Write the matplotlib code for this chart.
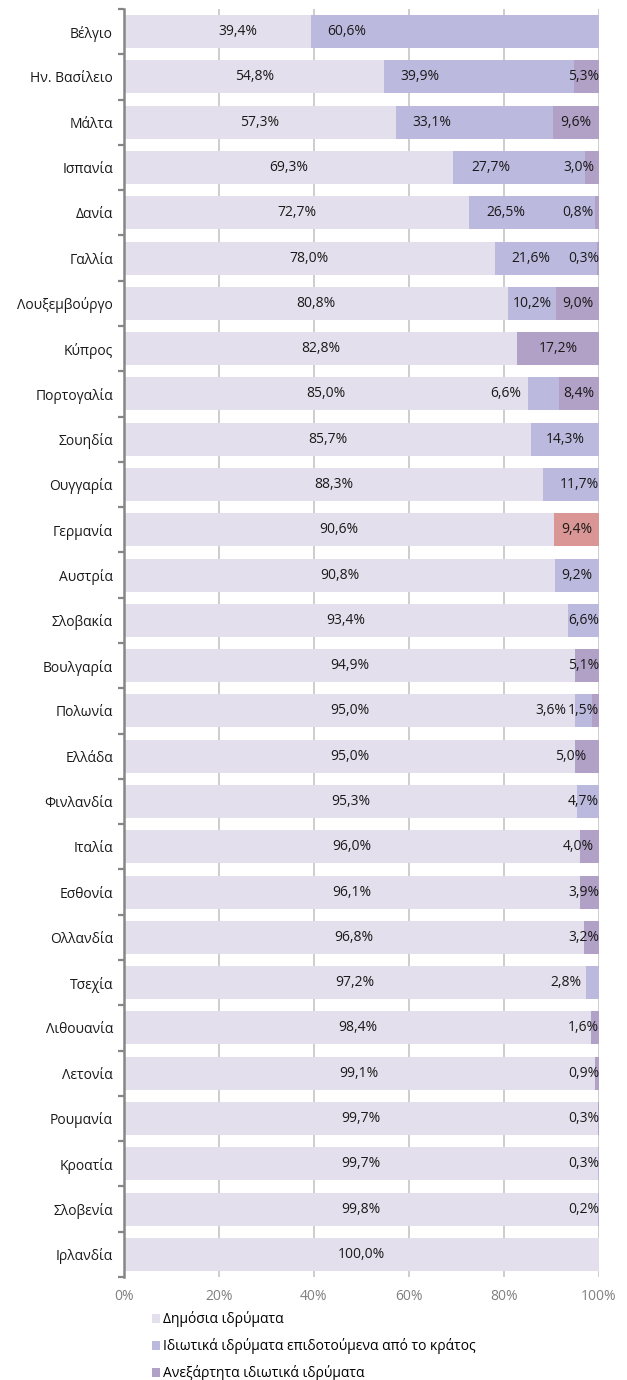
import matplotlib
matplotlib.use("Agg")
import matplotlib.pyplot as plt
from matplotlib.patches import Patch
import numpy as np

plt.rcParams['font.family'] = ['Open Sans', 'DejaVu Sans']

countries = ["Βέλγιο", "Ην. Βασίλειο", "Μάλτα", "Ισπανία", "Δανία", "Γαλλία",
             "Λουξεμβούργο", "Κύπρος", "Πορτογαλία", "Σουηδία", "Ουγγαρία",
             "Γερμανία", "Αυστρία", "Σλοβακία", "Βουλγαρία", "Πολωνία", "Ελλάδα",
             "Φινλανδία", "Ιταλία", "Εσθονία", "Ολλανδία", "Τσεχία", "Λιθουανία",
             "Λετονία", "Ρουμανία", "Κροατία", "Σλοβενία", "Ιρλανδία"]
public = [39.4, 54.8, 57.3, 69.3, 72.7, 78.0, 80.8, 82.8, 85.0, 85.7, 88.3,
          90.6, 90.8, 93.4, 94.9, 95.0, 95.0, 95.3, 96.0, 96.1, 96.8, 97.2,
          98.4, 99.1, 99.7, 99.7, 99.8, 100.0]
subsidised = [60.6, 39.9, 33.1, 27.7, 26.5, 21.6, 10.2, 0.0, 6.6, 14.3, 11.7,
              0.0, 9.2, 6.6, 0.0, 3.6, 0.0, 4.7, 0.0, 0.0, 0.0, 2.8,
              0.0, 0.0, 0.0, 0.3, 0.2, 0.0]
independent = [0.0, 5.3, 9.6, 3.0, 0.8, 0.3, 9.0, 17.2, 8.4, 0.0, 0.0,
               9.4, 0.0, 0.0, 5.1, 1.5, 5.0, 0.0, 4.0, 3.9, 3.2, 0.0,
               1.6, 0.9, 0.3, 0.0, 0.0, 0.0]
series_names = ["Δημόσια ιδρύματα",
                "Ιδιωτικά ιδρύματα επιδοτούμενα από το κράτος",
                "Ανεξάρτητα ιδιωτικά ιδρύματα"]
x_ticks = [0, 20, 40, 60, 80, 100]
highlight_country = "Γερμανία"

colors = ["#E4DFEC", "#BCB9DE", "#B2A1C7"]
highlight_color = "#DA9694"

# label nudges (in percentage points) for labels Excel placed off-centre
label_shift = {(0, 0): 4.3, (0, 1): -22.8, (1, 1): -12.4, (2, 1): -9.0,
               (3, 1): -5.8, (3, 2): -1.0, (4, 1): -5.5, (4, 2): -1.2,
               (5, 1): -3.1, (8, 1): -7.9, (15, 1): -6.9, (16, 2): -2.7,
               (18, 2): -1.2, (21, 1): -3.7, (10, 1): 1.8}

FS = 10
W, H = 627, 1380
fig = plt.figure(figsize=(W / 100, H / 100), dpi=100)
ax = fig.add_axes([124 / W, 1 - 1277 / H, 475 / W, 1268 / H])

y = np.arange(len(countries))
data = [np.array(public), np.array(subsidised), np.array(independent)]
left = np.zeros(len(countries))
bh = 0.73
for si, vals in enumerate(data):
    cols = [colors[si]] * len(countries)
    if si == 2:
        idx = countries.index(highlight_country)
        cols[idx] = highlight_color
    ax.barh(y, vals, left=left, height=bh, color=cols, edgecolor='none', zorder=2)
    for i, v in enumerate(vals):
        if v <= 0:
            continue
        cx = left[i] + v / 2
        if v < 7:
            cx = min(cx, 96.8)
        cx += label_shift.get((i, si), 0)
        ax.text(cx, i, f"{v:.1f}%".replace('.', ','), ha='center', va='center',
                fontsize=FS, color='#1a1a1a', zorder=3)
    left = left + vals

ax.set_xlim(0, 100)
ax.set_ylim(len(countries) - 0.5, -0.5)
ax.set_xticks(x_ticks)
ax.set_xticklabels([f"{t}%" for t in x_ticks])
ax.tick_params(axis='x', length=0, pad=9, labelsize=FS, labelcolor='#808080')
ax.grid(axis='x', color='#C0C0C0', linewidth=1.1, zorder=0)
ax.set_axisbelow(True)

ax.set_yticks(y)
ax.set_yticklabels(countries)
ax.set_yticks(np.arange(-0.5, len(countries), 1), minor=True)
ax.tick_params(axis='y', which='major', length=0, pad=8, labelsize=FS, labelcolor='#1a1a1a')
ax.tick_params(axis='y', which='minor', length=4, width=1.6, color='#868686', direction='out')

for s in ['top', 'right', 'bottom']:
    ax.spines[s].set_visible(False)
ax.spines['left'].set_color('#868686')
ax.spines['left'].set_linewidth(1.8)

handles = [Patch(facecolor=c, edgecolor='none') for c in colors]
fig.legend(handles, series_names, loc='upper left',
           bbox_to_anchor=(152 / W, 1 - 1311 / H), frameon=False,
           fontsize=FS, handlelength=0.6, handleheight=0.6,
           handletextpad=0.2, labelspacing=0.8, borderpad=0, borderaxespad=0)

fig.savefig("out.png", dpi=100)
